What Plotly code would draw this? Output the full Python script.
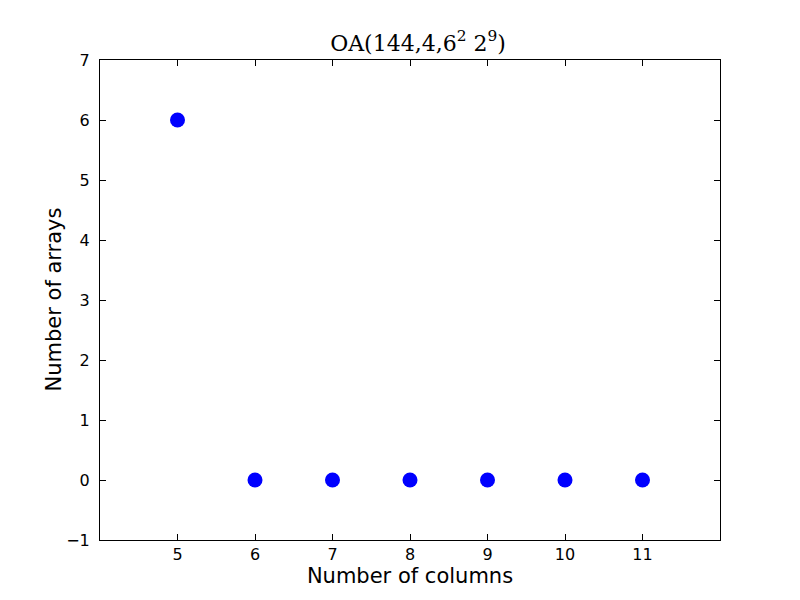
import plotly.graph_objects as go

columns = [5, 6, 7, 8, 9, 10, 11]
num_arrays = [6, 0, 0, 0, 0, 0, 0]
x_ticks = [5, 6, 7, 8, 9, 10, 11]
y_ticks = [-1, 0, 1, 2, 3, 4, 5, 6, 7]

fig = go.Figure()
fig.add_trace(go.Scatter(
    x=columns, y=num_arrays, mode="markers",
    marker=dict(color="#0000ff", size=15, line=dict(width=0)),
    showlegend=False,
))

axis_common = dict(
    showgrid=False, zeroline=False, showline=True, linecolor="black", linewidth=1,
    mirror="ticks", ticks="inside", ticklen=6, tickcolor="black", tickwidth=1,
    tickfont=dict(family="DejaVu Sans", size=16, color="black"),
)

fig.update_layout(
    width=800, height=600,
    paper_bgcolor="white", plot_bgcolor="white",
    margin=dict(l=92, r=88, t=52, b=68),
    title=dict(
        text="OA(144,4,6<sup>2</sup> 2<sup>9</sup>)",
        x=0.5125, xanchor="center", y=0.929, yanchor="bottom",
        font=dict(family="DejaVu Serif", size=22, color="black"),
    ),
    xaxis=dict(
        range=[4, 12], tickvals=x_ticks,
        title=dict(text="Number of columns", font=dict(family="DejaVu Sans", size=21, color="black"), standoff=0),
        automargin=False,
        **axis_common,
    ),
    yaxis=dict(
        range=[-1, 7], tickvals=y_ticks, ticklabelstandoff=6,
        title=dict(text="", standoff=0),
        automargin=False,
        **axis_common,
    ),
    annotations=[dict(
        text="Number of arrays", textangle=-90,
        xref="paper", yref="paper", x=-0.075, y=0.5,
        xanchor="center", yanchor="middle", showarrow=False,
        font=dict(family="DejaVu Sans", size=21, color="black"),
    )],
)

fig.write_html("out.html")
